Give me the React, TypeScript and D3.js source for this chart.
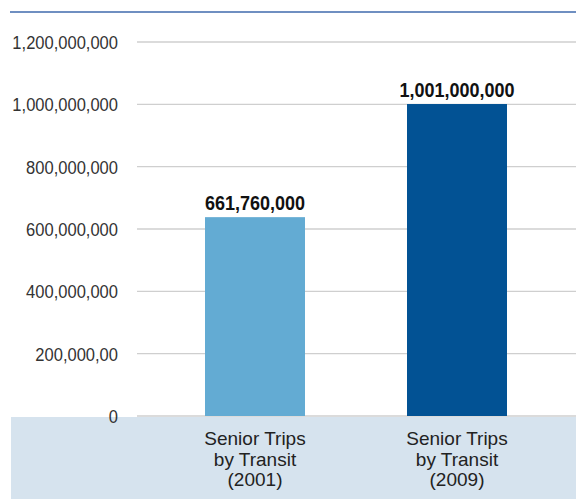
import { useEffect, useRef } from 'react';
import * as d3 from 'd3';

const categories = ['Senior Trips by Transit (2001)', 'Senior Trips by Transit (2009)'];
const categoryLines = [
  ['Senior Trips', 'by Transit', '(2001)'],
  ['Senior Trips', 'by Transit', '(2009)'],
];
// bar heights as drawn in the picture; value labels as printed
const barValues = [638000000, 1001000000];
const valueLabels = ['661,760,000', '1,001,000,000'];
const barColors = ['#63abd3', '#025294'];
const tickValues = [0, 200000000, 400000000, 600000000, 800000000, 1000000000, 1200000000];
const tickLabels = ['0', '200,000,00', '400,000,000', '600,000,000', '800,000,000', '1,000,000,000', '1,200,000,000'];

const W = 576;
const H = 499;

export default function App() {
  const svgRef = useRef<SVGSVGElement>(null);

  useEffect(() => {
    if (!svgRef.current) return;
    const svg = d3.select(svgRef.current);
    svg.selectAll('*').remove();

    const y = d3.scaleLinear().domain([0, 1200000000]).range([416, 42]);
    const x = d3
      .scaleBand<string>()
      .domain(categories)
      .range([154, 558])
      .paddingInner(0.505)
      .paddingOuter(0.2525);

    // top rule
    svg.append('line')
      .attr('x1', 10).attr('x2', W)
      .attr('y1', 12).attr('y2', 12)
      .attr('stroke', '#6f8fc1').attr('stroke-width', 2);

    // bottom band
    svg.append('rect')
      .attr('x', 11).attr('y', 417)
      .attr('width', W - 11).attr('height', H - 417)
      .attr('fill', '#d6e3ee');

    // gridlines
    svg.selectAll('line.grid')
      .data(tickValues)
      .join('line')
      .attr('class', 'grid')
      .attr('x1', 137).attr('x2', W)
      .attr('y1', (d) => y(d)).attr('y2', (d) => y(d))
      .attr('stroke', '#cfcfcf').attr('stroke-width', 1.3);

    // tick labels (narrow face: squeeze horizontally)
    svg.selectAll('text.tick')
      .data(tickValues)
      .join('text')
      .attr('class', 'tick')
      .attr('transform', (d) => `translate(118,${y(d) + 7}) scale(0.87,1)`)
      .attr('text-anchor', 'end')
      .attr('font-family', '"Liberation Sans", Arial, sans-serif')
      .attr('font-size', 19)
      .attr('fill', '#333')
      .text((_d, i) => tickLabels[i]);

    // bars
    svg.selectAll('rect.bar')
      .data(categories)
      .join('rect')
      .attr('class', 'bar')
      .attr('x', (d) => x(d) ?? 0)
      .attr('width', x.bandwidth())
      .attr('y', (_d, i) => y(barValues[i]))
      .attr('height', (_d, i) => y(0) - y(barValues[i]))
      .attr('fill', (_d, i) => barColors[i]);

    // value labels
    svg.selectAll('text.val')
      .data(categories)
      .join('text')
      .attr('class', 'val')
      .attr('transform', (d, i) =>
        `translate(${(x(d) ?? 0) + x.bandwidth() / 2},${y(barValues[i]) - 7}) scale(0.9,1)`)
      .attr('text-anchor', 'middle')
      .attr('font-family', '"Liberation Sans", Arial, sans-serif')
      .attr('font-weight', 'bold')
      .attr('font-size', 20)
      .attr('fill', '#111')
      .text((_d, i) => valueLabels[i]);

    // category labels
    categories.forEach((c, i) => {
      const cx = (x(c) ?? 0) + x.bandwidth() / 2;
      const t = svg.append('text')
        .attr('x', cx)
        .attr('y', 445)
        .attr('text-anchor', 'middle')
        .attr('font-family', '"Liberation Sans", Arial, sans-serif')
        .attr('font-size', 19)
        .attr('fill', '#222');
      categoryLines[i].forEach((line, j) => {
        t.append('tspan')
          .attr('x', cx)
          .attr('dy', j === 0 ? 0 : 20.5)
          .text(line);
      });
    });
  }, []);

  return (
    <svg
      ref={svgRef}
      width={W}
      height={H}
      style={{ position: 'absolute', left: 0, top: 0, display: 'block', background: '#fff' }}
    />
  );
}
